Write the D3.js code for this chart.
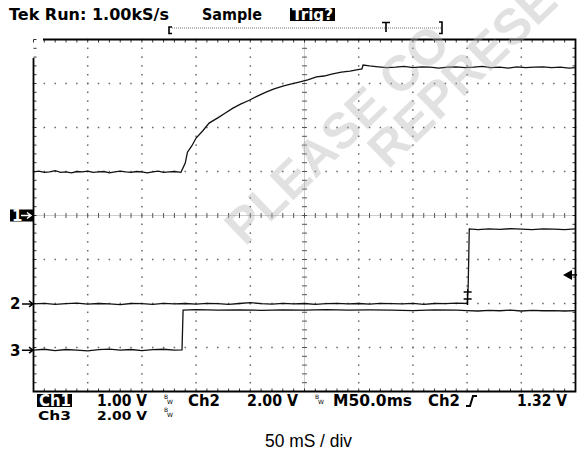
<!DOCTYPE html>
<html>
<head>
<meta charset="utf-8">
<title>Tek scope capture</title>
<script src="https://cdn.jsdelivr.net/npm/d3@7/dist/d3.min.js"></script>
<style>
    body{ margin:0; background:#fff; }
    svg{ display:block; }
    .scope{ font-family:"DejaVu Sans", sans-serif; font-weight:bold; font-size:15px; }
</style>
</head>
<body>
<script>
// time in ms (10 div x 50 ms/div), values in volts
const ch1Time  = [0,5,10,15,20,25,30,35,40,45,50,55,60,65,70,75,80,85,90,95,100,105,110,115,120,125,130,136,
                  140,142,146,150,156,162,170,177,184,191,199,207,215,222,230,238,245,253,261,268,276,284,292,298,303,
                  304,310,318,326,334,342,350,358,366,374,382,390,398,406,414,422,430,438,446,454,462,470,478,486,494,500];
const ch1Volts = [0.99,1.01,0.98,0.99,1.02,0.98,0.99,0.97,1.00,0.99,1.01,0.98,0.99,1.00,0.97,0.99,1.01,0.99,0.98,1.00,0.99,0.97,0.99,1.01,0.98,0.99,1.00,0.98,
                  1.19,1.44,1.58,1.76,1.92,2.10,2.22,2.33,2.44,2.53,2.62,2.72,2.81,2.88,2.94,2.99,3.03,3.08,3.15,3.17,3.22,3.26,3.28,3.31,3.33,
                  3.42,3.40,3.38,3.36,3.37,3.39,3.36,3.38,3.37,3.35,3.37,3.38,3.36,3.37,3.39,3.36,3.37,3.35,3.38,3.36,3.37,3.38,3.36,3.37,3.35,3.36];

const ch2Time  = [0,10,20,30,40,50,60,70,80,90,100,110,120,130,140,150,160,170,180,190,200,210,220,230,240,250,260,270,280,290,
                  300,310,320,330,340,350,360,370,380,390,400,401,402,410,420,430,440,450,460,470,480,490,500];
const ch2Volts = [0.00,0.03,-0.02,0.01,0.04,-0.01,0.02,0.00,-0.03,0.02,0.01,-0.02,0.03,0.00,0.02,-0.01,0.03,0.01,-0.02,0.02,0.06,0.01,-0.01,0.03,0.00,0.02,-0.02,0.01,0.03,0.00,
                  0.02,-0.01,0.03,0.01,0.00,0.03,-0.02,0.02,0.01,0.04,0.02,0.80,3.41,3.38,3.41,3.39,3.42,3.40,3.38,3.41,3.40,3.38,3.41];

const ch3Time  = [0,10,20,30,40,50,60,70,80,90,100,110,120,130,137,138,150,170,190,210,230,250,270,290,310,330,350,370,390,
                  400,410,420,430,440,450,460,470,480,490,500];
const ch3Volts = [0.00,0.04,-0.02,0.03,0.00,-0.03,0.02,0.05,0.00,0.03,-0.02,0.02,0.04,0.00,0.01,1.82,1.84,1.82,1.83,1.81,1.83,1.82,1.84,1.82,1.83,1.82,1.80,1.83,1.82,
                  1.80,1.78,1.81,1.79,1.82,1.78,1.81,1.79,1.80,1.78,1.80];

// vertical scale (V/div) and ground marker position (div from centre)
const chScale  = [1, 2, 2];
const chGround = [0, -2.01, -3.06];
const trigLevel = 1.32;

const topTexts    = ["Tek Run: 1.00kS/s", "Sample", "Trig?"];
const bottomRow1  = ["Ch1", "1.00 V", "Ch2", "2.00 V", "M50.0ms", "Ch2", "1.32 V"];
const bottomRow2  = ["Ch3", "2.00 V"];
const caption     = "50 mS / div";
const watermark   = ["PLEASE CO", "REPRESE"];

const W = 577, H = 453;
const svg = d3.select('body').append('svg').attr('width', W).attr('height', H);

const x = d3.scaleLinear().domain([0, 500]).range([33.5, 575.5]);
const y = d3.scaleLinear().domain([-4, 4]).range([391.5, 39.5]);
const divX = (x(500) - x(0)) / 10, divY = (y(-4) - y(4)) / 8;

// ---- graticule
const grid = svg.append('g');
const minorX = d3.range(0, 50.01, 1).map(i => x(0) + i * divX / 5);
const minorY = d3.range(0, 40.01, 1).map(i => y(4) + i * divY / 5);
const majorX = d3.range(1, 10).filter(i => i !== 5).map(i => x(0) + i * divX);
const majorY = d3.range(1, 8).filter(i => i !== 4).map(i => y(4) + i * divY);
const dots = [];
majorX.forEach(mx => minorY.forEach(my => dots.push([mx, my])));
majorY.forEach(my => minorX.forEach(mx => dots.push([mx, my])));
grid.selectAll('rect.dot').data(dots).enter().append('rect')
    .attr('x', d => d[0] - 0.75).attr('y', d => d[1] - 0.75)
    .attr('width', 1.5).attr('height', 1.5).attr('fill', '#666');

// centre cross
const cx = x(250), cy = y(0);
grid.append('line').attr('x1', x(0)).attr('x2', x(500)).attr('y1', cy).attr('y2', cy)
    .attr('stroke', '#999').attr('stroke-dasharray', '1,1');
grid.append('line').attr('x1', cx).attr('x2', cx).attr('y1', y(4)).attr('y2', y(-4))
    .attr('stroke', '#999').attr('stroke-dasharray', '1,1');
grid.selectAll('line.cxt').data(minorX).enter().append('line')
    .attr('x1', d => d).attr('x2', d => d).attr('y1', cy - 2.5).attr('y2', cy + 2.5)
    .attr('stroke', '#555');
grid.selectAll('line.cyt').data(minorY).enter().append('line')
    .attr('x1', cx - 2.5).attr('x2', cx + 2.5).attr('y1', d => d).attr('y2', d => d)
    .attr('stroke', '#555');

// edge ticks
grid.selectAll('line.tt').data(minorX).enter().append('line')
    .attr('x1', d => d).attr('x2', d => d).attr('y1', y(4)).attr('y2', y(4) + 3).attr('stroke', '#333');
grid.selectAll('line.bt').data(minorX).enter().append('line')
    .attr('x1', d => d).attr('x2', d => d).attr('y1', y(-4)).attr('y2', y(-4) - 3).attr('stroke', '#333');
grid.selectAll('line.lt').data(minorY).enter().append('line')
    .attr('x1', x(0)).attr('x2', x(0) + 3).attr('y1', d => d).attr('y2', d => d).attr('stroke', '#333');
grid.selectAll('line.rt').data(minorY).enter().append('line')
    .attr('x1', x(500)).attr('x2', x(500) - 3).attr('y1', d => d).attr('y2', d => d).attr('stroke', '#333');

// frame (left edge starts lower, top edge starts right of the corner)
svg.append('path')
    .attr('d', `M43,${y(4)}H${x(500)}V${y(-4)}H${x(0)}V58`)
    .attr('fill', 'none').attr('stroke', '#000').attr('stroke-width', 1.8);

// ---- traces
const line = d3.line().x(d => x(d[0])).y(d => d[1]);
const traces = [[ch1Time, ch1Volts], [ch2Time, ch2Volts], [ch3Time, ch3Volts]];
traces.forEach(([t, v], i) => {
    const pts = t.map((tt, k) => [tt, y(chGround[i] + v[k] / chScale[i])]);
    svg.append('path').datum(pts).attr('d', line)
        .attr('fill', 'none').attr('stroke', '#111').attr('stroke-width', 1.3);
});

// ---- ground markers on the left
const gm = svg.append('g').attr('class', 'scope');
gm.append('rect').attr('x', 10).attr('y', y(chGround[0]) - 6).attr('width', 23).attr('height', 12).attr('fill', '#000');
gm.append('text').attr('x', 12).attr('y', y(chGround[0]) + 5.5).attr('fill', '#fff').text('1');
gm.append('path').attr('d', `M21,${y(0)}H30M27,${y(0) - 3}L31,${y(0)}L27,${y(0) + 3}`)
    .attr('stroke', '#fff').attr('stroke-width', 1.5).attr('fill', 'none');
[1, 2].forEach(i => {
    const gy = y(chGround[i]);
    gm.append('text').attr('x', 10).attr('y', gy + 5.5).attr('fill', '#000').text(String(i + 1));
    gm.append('path').attr('d', `M22,${gy}H32M29,${gy - 3}L33,${gy}L29,${gy + 3}`)
        .attr('stroke', '#000').attr('stroke-width', 1.5).attr('fill', 'none');
});

// trigger level arrow (right) and trigger point marker
const ty = y(chGround[1] + trigLevel / chScale[1]);
svg.append('path').attr('d', `M563,${ty}L572,${ty - 5}V${ty + 5}Z`).attr('fill', '#000');
svg.append('line').attr('x1', 571).attr('x2', 577).attr('y1', ty).attr('y2', ty).attr('stroke', '#000').attr('stroke-width', 1.5);
const tpx = x(400.5);
svg.append('path').attr('d', `M${tpx},289V305M${tpx - 4},292H${tpx + 4}M${tpx - 4},299H${tpx + 4}`)
    .attr('stroke', '#000').attr('stroke-width', 1.3).attr('fill', 'none');

// ---- top status line
const status = svg.append('g').attr('class', 'scope');
status.append('text').attr('x', 9).attr('y', 20).attr('textLength', 160).attr('lengthAdjust', 'spacingAndGlyphs').text(topTexts[0]);
status.append('text').attr('x', 202).attr('y', 20).attr('textLength', 60).attr('lengthAdjust', 'spacingAndGlyphs').text(topTexts[1]);
status.append('rect').attr('x', 290).attr('y', 8).attr('width', 45).attr('height', 13).attr('fill', '#000');
status.append('text').attr('x', 292).attr('y', 20).attr('fill', '#fff').attr('textLength', 41).attr('lengthAdjust', 'spacingAndGlyphs').text(topTexts[2]);

// record bracket
svg.append('line').attr('x1', 172).attr('x2', 441).attr('y1', 28).attr('y2', 28)
    .attr('stroke', '#777').attr('stroke-dasharray', '1,1');
svg.append('path').attr('d', 'M172,27H169V33.5H172M439,22H442V33.5H439M382,22.5H390M386,22.5V32')
    .attr('stroke', '#000').attr('stroke-width', 1.6).attr('fill', 'none');

// ---- bottom readout
const bot = svg.append('g').attr('class', 'scope');
bot.append('rect').attr('x', 37).attr('y', 394).attr('width', 35).attr('height', 13).attr('fill', '#000');
const row1 = [[39, 32, '#fff'], [97, 50], [188, 32], [247, 51], [333, 79], [428, 32], [517, 50]];
row1.forEach((p, i) => bot.append('text').attr('x', p[0]).attr('y', 405.5)
    .attr('textLength', p[1]).attr('lengthAdjust', 'spacingAndGlyphs')
    .attr('fill', p[2] || '#000').text(bottomRow1[i]));
const row2 = [[38, 33], [97, 50]];
row2.forEach((p, i) => bot.append('text').attr('x', p[0]).attr('y', 420).attr('font-size', 12.5)
    .attr('textLength', p[1]).attr('lengthAdjust', 'spacingAndGlyphs').text(bottomRow2[i]));

// bandwidth-limit glyphs
[[164, 401], [315, 401], [164, 414]].forEach(([bx, by]) => {
    const g = svg.append('g').attr('font-family', 'DejaVu Sans').attr('font-size', 6);
    g.append('text').attr('x', bx).attr('y', by - 2).text('B');
    g.append('text').attr('x', bx + 3).attr('y', by + 3).text('W');
});

// rising slope symbol
svg.append('path').attr('d', 'M466,406H470L473,396H477')
    .attr('stroke', '#000').attr('stroke-width', 2).attr('fill', 'none');

// caption
svg.append('text').attr('x', 265).attr('y', 447)
    .attr('font-family', '"Liberation Sans Narrow", "Arial Narrow", sans-serif').attr('font-size', 19)
    .attr('textLength', 87).attr('lengthAdjust', 'spacingAndGlyphs').text(caption);

// ---- watermark (cut by the picture's edges as in the source)
const wm = svg.append('g').attr('font-family', '"Liberation Sans", Arial, sans-serif')
    .attr('font-weight', 'bold').attr('font-size', 50).attr('fill', '#b0b0b0').attr('fill-opacity', 0.38);
wm.append('text').attr('transform', 'translate(245,247) rotate(-44)').text(watermark[0]);
wm.append('text').attr('transform', 'translate(388,170) rotate(-44)').text(watermark[1]);
</script>
</body>
</html>
